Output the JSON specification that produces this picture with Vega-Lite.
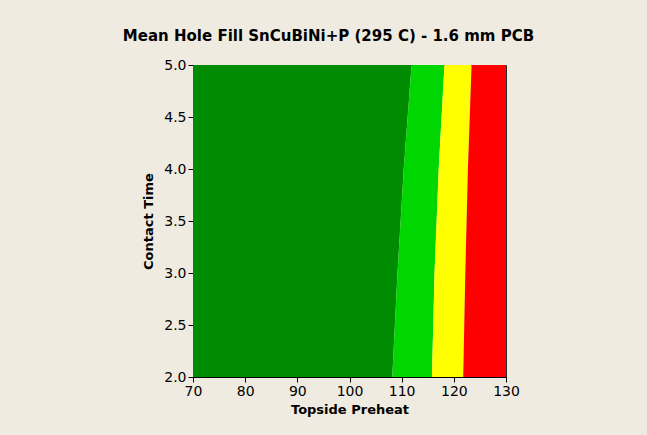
{
  "$schema": "https://vega.github.io/schema/vega-lite/v6.json",
  "width": 313,
  "height": 312,
  "autosize": {"type": "none"},
  "padding": {"left": 193, "top": 65, "right": 141, "bottom": 58},
  "background": "#EFEBE1",
  "title": {
    "text": "Mean Hole Fill SnCuBiNi+P (295 C) - 1.6 mm PCB",
    "font": "DejaVu Sans",
    "fontSize": 15,
    "fontWeight": "bold",
    "color": "#000000",
    "anchor": "middle",
    "baseline": "alphabetic",
    "offset": 2,
    "dx": -21
  },
  "config": {
    "view": {"stroke": "#2a2a2a", "strokeWidth": 1},
    "axis": {
      "grid": false,
      "domainColor": "#000000",
      "tickColor": "#000000",
      "tickSize": 5,
      "labelFont": "DejaVu Sans",
      "labelFontSize": 14,
      "labelColor": "#000000",
      "labelFlush": false,
      "titleFont": "DejaVu Sans",
      "titleFontSize": 13,
      "titleFontWeight": "bold",
      "titleColor": "#000000"
    }
  },
  "data": {
    "values": [
      {"ct": 2.0, "band": "1", "lo": 70, "hi": 108.2},
      {"ct": 3.0, "band": "1", "lo": 70, "hi": 109.2},
      {"ct": 4.0, "band": "1", "lo": 70, "hi": 110.4},
      {"ct": 5.0, "band": "1", "lo": 70, "hi": 111.9},
      {"ct": 2.0, "band": "2", "lo": 108.2, "hi": 115.8},
      {"ct": 3.0, "band": "2", "lo": 109.2, "hi": 116.3},
      {"ct": 4.0, "band": "2", "lo": 110.4, "hi": 117.1},
      {"ct": 5.0, "band": "2", "lo": 111.9, "hi": 118.2},
      {"ct": 2.0, "band": "3", "lo": 115.8, "hi": 121.8},
      {"ct": 3.0, "band": "3", "lo": 116.3, "hi": 122.2},
      {"ct": 4.0, "band": "3", "lo": 117.1, "hi": 122.7},
      {"ct": 5.0, "band": "3", "lo": 118.2, "hi": 123.4},
      {"ct": 2.0, "band": "4", "lo": 121.8, "hi": 130},
      {"ct": 3.0, "band": "4", "lo": 122.2, "hi": 130},
      {"ct": 4.0, "band": "4", "lo": 122.7, "hi": 130},
      {"ct": 5.0, "band": "4", "lo": 123.4, "hi": 130}
    ]
  },
  "mark": {"type": "area", "orient": "horizontal", "clip": true, "strokeWidth": 0},
  "encoding": {
    "y": {
      "field": "ct",
      "type": "quantitative",
      "title": "Contact Time",
      "scale": {"domain": [2, 5], "nice": false, "zero": false},
      "axis": {"values": [2, 2.5, 3, 3.5, 4, 4.5, 5], "format": ".1f", "titlePadding": 8}
    },
    "x": {
      "field": "lo",
      "type": "quantitative",
      "title": "Topside Preheat",
      "scale": {"domain": [70, 130], "nice": false, "zero": false},
      "axis": {"values": [70, 80, 90, 100, 110, 120, 130], "labelPadding": 2, "titlePadding": 5}
    },
    "x2": {"field": "hi"},
    "color": {
      "field": "band",
      "type": "nominal",
      "scale": {"domain": ["1", "2", "3", "4"], "range": ["#008C00", "#00D600", "#FFFF00", "#FF0000"]},
      "legend": null
    }
  }
}
